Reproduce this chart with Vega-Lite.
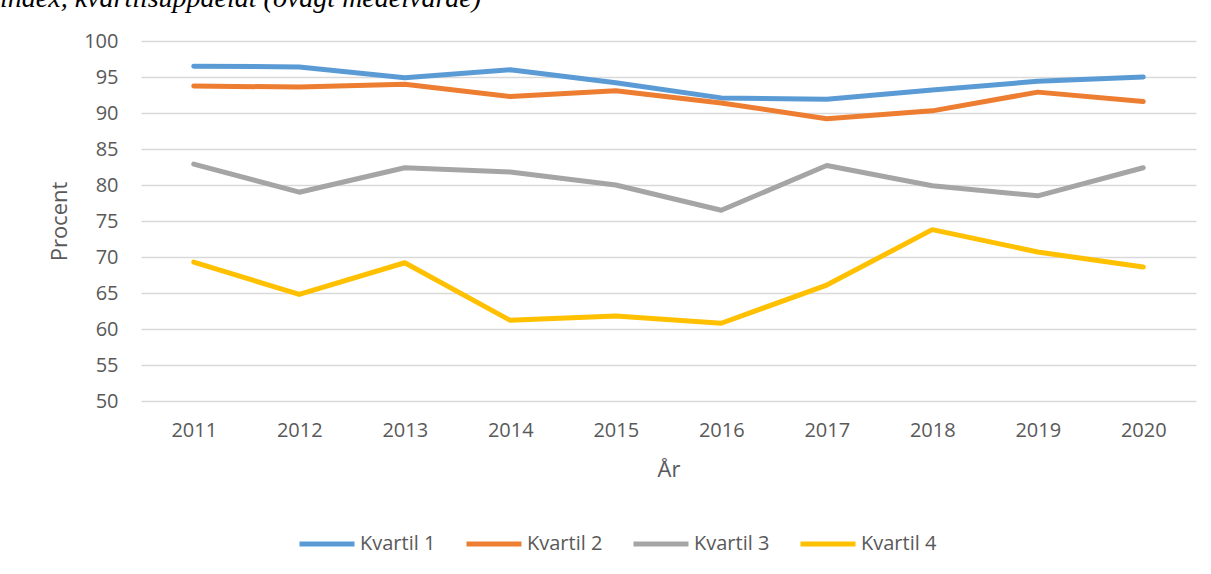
{
  "$schema": "https://vega.github.io/schema/vega-lite/v6.json",
  "width": 1055,
  "height": 360,
  "autosize": {"type": "none"},
  "padding": {"left": 141, "top": 41, "right": 15, "bottom": 173},
  "background": "white",
  "title": {
    "text": "index, kvartilsuppdelat (ovägt medelvärde)",
    "anchor": "start",
    "frame": "group",
    "dx": -141,
    "dy": 24,
    "baseline": "alphabetic",
    "offset": 20,
    "font": "Liberation Serif",
    "fontStyle": "italic",
    "fontWeight": "normal",
    "fontSize": 28,
    "color": "#000000"
  },
  "config": {
    "view": {"stroke": null},
    "font": "Open Sans",
    "axis": {
      "labelFont": "Open Sans",
      "titleFont": "Open Sans",
      "labelColor": "#595959",
      "titleColor": "#595959",
      "labelFontSize": 20,
      "titleFontSize": 22,
      "titleFontWeight": "normal",
      "gridColor": "#D9D9D9",
      "gridWidth": 1.3,
      "ticks": false,
      "domain": false
    }
  },
  "data": {
    "values": [
      {"year": "2011", "serie": "Kvartil 1", "value": 96.5},
      {"year": "2012", "serie": "Kvartil 1", "value": 96.4},
      {"year": "2013", "serie": "Kvartil 1", "value": 94.9},
      {"year": "2014", "serie": "Kvartil 1", "value": 96.0},
      {"year": "2015", "serie": "Kvartil 1", "value": 94.2},
      {"year": "2016", "serie": "Kvartil 1", "value": 92.1},
      {"year": "2017", "serie": "Kvartil 1", "value": 91.9},
      {"year": "2018", "serie": "Kvartil 1", "value": 93.2},
      {"year": "2019", "serie": "Kvartil 1", "value": 94.4},
      {"year": "2020", "serie": "Kvartil 1", "value": 95.0},
      {"year": "2011", "serie": "Kvartil 2", "value": 93.75},
      {"year": "2012", "serie": "Kvartil 2", "value": 93.6},
      {"year": "2013", "serie": "Kvartil 2", "value": 94.0},
      {"year": "2014", "serie": "Kvartil 2", "value": 92.3},
      {"year": "2015", "serie": "Kvartil 2", "value": 93.1},
      {"year": "2016", "serie": "Kvartil 2", "value": 91.4},
      {"year": "2017", "serie": "Kvartil 2", "value": 89.2},
      {"year": "2018", "serie": "Kvartil 2", "value": 90.3},
      {"year": "2019", "serie": "Kvartil 2", "value": 92.9},
      {"year": "2020", "serie": "Kvartil 2", "value": 91.6},
      {"year": "2011", "serie": "Kvartil 3", "value": 82.9},
      {"year": "2012", "serie": "Kvartil 3", "value": 79.0},
      {"year": "2013", "serie": "Kvartil 3", "value": 82.4},
      {"year": "2014", "serie": "Kvartil 3", "value": 81.8},
      {"year": "2015", "serie": "Kvartil 3", "value": 80.0},
      {"year": "2016", "serie": "Kvartil 3", "value": 76.5},
      {"year": "2017", "serie": "Kvartil 3", "value": 82.7},
      {"year": "2018", "serie": "Kvartil 3", "value": 79.9},
      {"year": "2019", "serie": "Kvartil 3", "value": 78.5},
      {"year": "2020", "serie": "Kvartil 3", "value": 82.4},
      {"year": "2011", "serie": "Kvartil 4", "value": 69.3},
      {"year": "2012", "serie": "Kvartil 4", "value": 64.8},
      {"year": "2013", "serie": "Kvartil 4", "value": 69.2},
      {"year": "2014", "serie": "Kvartil 4", "value": 61.2},
      {"year": "2015", "serie": "Kvartil 4", "value": 61.8},
      {"year": "2016", "serie": "Kvartil 4", "value": 60.8},
      {"year": "2017", "serie": "Kvartil 4", "value": 66.1},
      {"year": "2018", "serie": "Kvartil 4", "value": 73.8},
      {"year": "2019", "serie": "Kvartil 4", "value": 70.7},
      {"year": "2020", "serie": "Kvartil 4", "value": 68.6}
    ]
  },
  "mark": {"type": "line", "strokeWidth": 5, "strokeCap": "round", "strokeJoin": "round"},
  "encoding": {
    "x": {
      "field": "year",
      "type": "ordinal",
      "scale": {"type": "point", "padding": 0.5},
      "axis": {"title": "År", "labelAngle": 0, "labelPadding": 19, "titlePadding": 19, "grid": false}
    },
    "y": {
      "field": "value",
      "type": "quantitative",
      "scale": {"domain": [50, 100], "nice": false, "zero": false},
      "axis": {"title": "Procent", "values": [50, 55, 60, 65, 70, 75, 80, 85, 90, 95, 100], "labelPadding": 23, "titlePadding": 12, "grid": true}
    },
    "color": {
      "field": "serie",
      "type": "nominal",
      "scale": {"domain": ["Kvartil 1", "Kvartil 2", "Kvartil 3", "Kvartil 4"], "range": ["#5B9BD5", "#ED7D31", "#A5A5A5", "#FFC000"]},
      "legend": {
        "title": null,
        "orient": "none",
        "direction": "horizontal",
        "legendX": 156,
        "legendY": 473,
        "symbolType": "stroke",
        "symbolSize": 3025,
        "symbolStrokeWidth": 5,
        "labelFont": "Open Sans",
        "labelFontSize": 20,
        "labelColor": "#595959",
        "labelOffset": 3,
        "columnPadding": 20
      }
    }
  }
}
